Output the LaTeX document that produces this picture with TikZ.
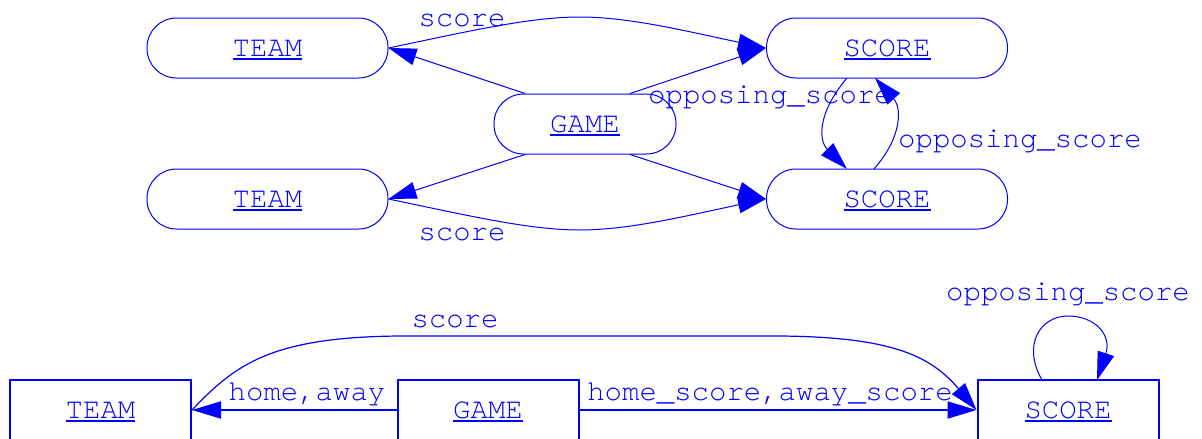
\documentclass[tikz,border=0pt]{standalone}
\usepackage{fontspec}
\setmonofont{TeX Gyre Cursor}
\usetikzlibrary{arrows.meta}
\definecolor{gblue}{RGB}{0,0,255}
\newcommand\ulx[1]{\setbox0\hbox{#1}\rlap{\rule[-3.5pt]{\wd0}{1.6pt}}\box0}
\begin{document}
\begin{tikzpicture}[x=1pt,y=-1pt,
  mono/.style={font=\ttfamily\fontsize{29}{34}\selectfont, text=gblue},
  ent/.style={mono, draw=gblue, line width=1pt, rounded corners=29.5pt,
    minimum width=241pt, minimum height=60pt, inner sep=0pt,
    text height=17pt, text depth=0pt},
  gent/.style={ent, minimum width=182pt},
  box/.style={mono, draw=gblue, line width=2pt, minimum width=181pt,
    minimum height=60pt, inner sep=0pt, text height=17pt, text depth=0pt},
  lbl/.style={mono, anchor=base, inner sep=0pt},
  arr/.style={draw=gblue, line width=1pt, -{Triangle[length=28pt,width=17pt]}},
  arrb/.style={arr, line width=2pt, -{Triangle[length=29pt,width=17pt]}}]
\clip (0,0) rectangle (1202,439);
% top diagram
\node[ent] (team1) at (267.5,48) {\ulx{TEAM}};
\node[ent] (score1) at (887,48) {\ulx{SCORE}};
\node[gent] (game) at (585,124) {\ulx{GAME}};
\node[ent] (team2) at (267.5,199) {\ulx{TEAM}};
\node[ent] (score2) at (887,199) {\ulx{SCORE}};
\draw[arr] ([xshift=-60pt]game.north) -- (team1.east);
\draw[arr] ([xshift=45pt]game.north) -- (score1.west);
\draw[arr] ([xshift=-60pt]game.south) -- (team2.east);
\draw[arr] ([xshift=45pt]game.south) -- (score2.west);
\draw[arr] (team1.east) .. controls (470,31) and (530,17) .. (580,17)
  .. controls (630,17) and (690,32) .. (score1.west);
\draw[arr] (team2.east) .. controls (470,216) and (530,230) .. (580,230)
  .. controls (630,230) and (690,215) .. (score2.west);
\coordinate (s1a) at (847,78);
\coordinate (s2a) at (847,169);
\coordinate (s2b) at (874,169);
\coordinate (s1b) at (875,78);
\draw[arr] (s1a) .. controls (818,112) and (818,140) .. (s2a);
\draw[arr] (s2b) .. controls (902,137) and (902,108) .. (s1b);
\node[lbl] (l1) at (462,27) {score};
\node[lbl] (l2) at (462,240) {score};
\node[lbl] (l3) at (770,103) {opposing\_score};
\node[lbl] (l4) at (1020,147) {opposing\_score};
% bottom diagram
\node[box] (team) at (100.5,410) {\ulx{TEAM}};
\node[box] (gameb) at (488,410) {\ulx{GAME}};
\node[box] (score) at (1068,410) {\ulx{SCORE}};
\draw[arrb] (gameb.west) -- (team.east);
\draw[arrb] (gameb.east) -- (score.west);
\draw[arr, line width=1.2pt] (team.east) .. controls (235,365) and (270,337) .. (400,336)
  -- (780,336) .. controls (890,337) and (930,355) .. (score.west);
\coordinate (lpa) at (1042,380);
\coordinate (lpb) at (1097,380);
\draw[arr] (lpa) .. controls (1022,345) and (1040,316) .. (1068,316)
  .. controls (1095,316) and (1112,335) .. (lpb);
\node[lbl] (l5) at (307,400) {home,away};
\node[lbl] (l6) at (770,400) {home\_score,away\_score};
\node[lbl] (l7) at (455,327) {score};
\node[lbl] (l8) at (1068,300) {opposing\_score};
\end{tikzpicture}
\end{document}
